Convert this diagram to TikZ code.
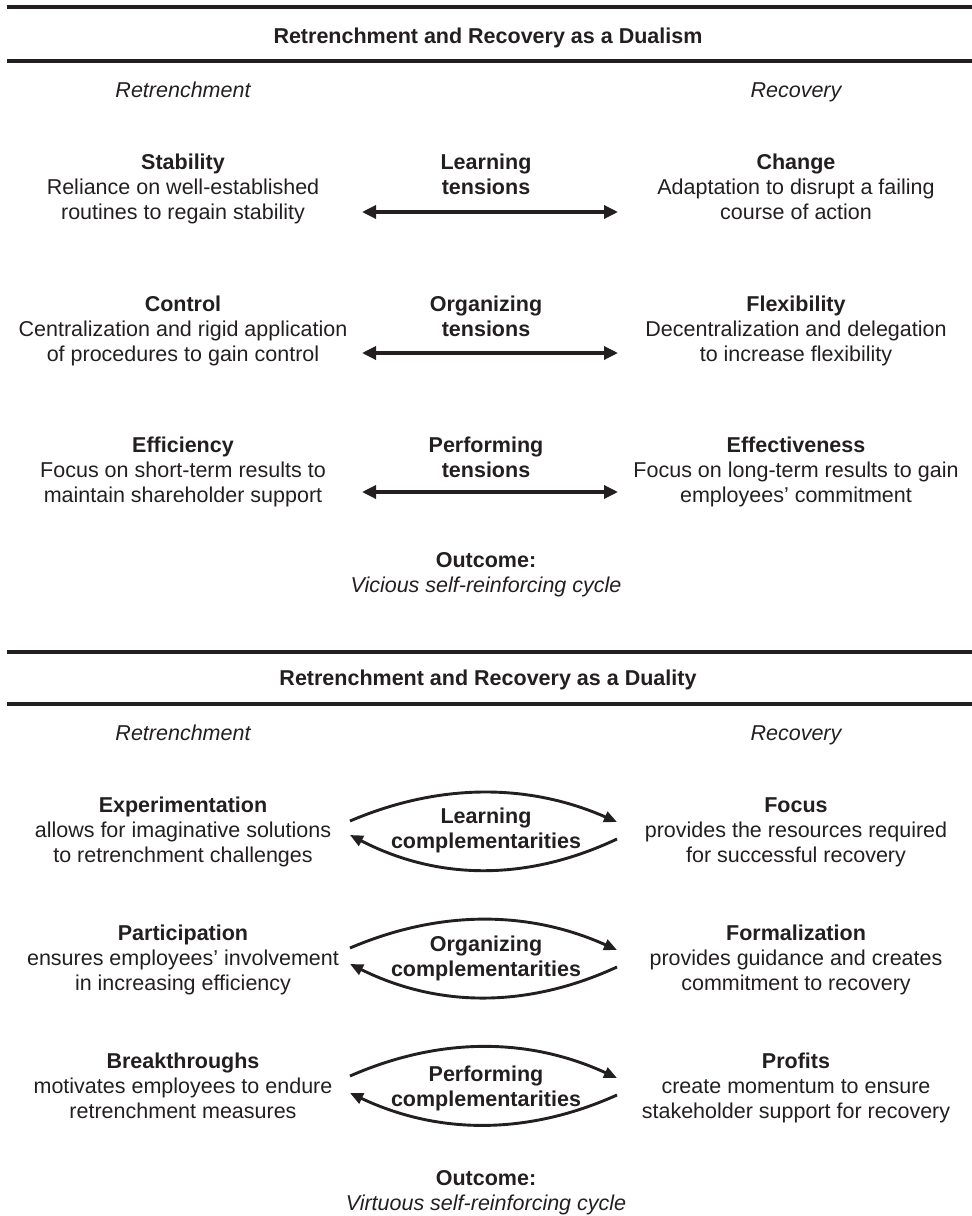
\documentclass[tikz,border=0pt]{standalone}
\usepackage{fontspec}
\setmainfont{Liberation Sans}
\usetikzlibrary{arrows.meta}
\definecolor{ink}{RGB}{35,31,32}
\newcommand{\blk}[3]{\strut\textbf{#1}\\#2\\#3\strut}
\newcommand{\two}[2]{\strut#1\\#2\strut}
\begin{document}
\begin{tikzpicture}[x=1pt,y=-1pt,
  every node/.style={font=\fontsize{21.5pt}{25pt}\selectfont,text=ink,align=center,inner sep=0pt},
  rule/.style={draw=ink,line width=3.2pt},
  head/.style={font=\fontsize{21.5pt}{25pt}\selectfont\bfseries,anchor=base},
  side/.style={font=\fontsize{21.5pt}{25pt}\selectfont\itshape,anchor=base},
  block/.style={},
  mid/.style={font=\fontsize{21.5pt}{25pt}\selectfont\bfseries},
  tens/.style={draw=ink,line width=3.3pt,{Triangle[length=14pt,width=13pt]}-{Triangle[length=14pt,width=13pt]}},
  comp/.style={draw=ink,line width=2.9pt,-{Triangle[length=13pt,width=11pt]}}
]
\useasboundingbox (0,0) rectangle (972,1216);

% ---------- Dualism ----------
\coordinate (r1a) at (7,7);   \coordinate (r1b) at (972,7);
\coordinate (r2a) at (7,61);  \coordinate (r2b) at (972,61);
\draw[rule] (r1a) -- (r1b);
\draw[rule] (r2a) -- (r2b);
\node[head] (t1) at (488,43.5) {Retrenchment and Recovery as a Dualism};
\node[side] (lr1) at (183,97.5) {Retrenchment};
\node[side] (rr1) at (796,97.5) {Recovery};

\node[block] (stab) at (183,189) {\blk{Stability}{Reliance on well-established}{routines to regain stability}};
\node[block] (ctrl) at (183,331) {\blk{Control}{Centralization and rigid application}{of procedures to gain control}};
\node[block] (effi) at (183,472) {\blk{Efficiency}{Focus on short-term results to}{maintain shareholder support}};

\node[block] (chng) at (796,189) {\blk{Change}{Adaptation to disrupt a failing}{course of action}};
\node[block] (flex) at (796,331) {\blk{Flexibility}{Decentralization and delegation}{to increase flexibility}};
\node[block] (effe) at (796,472) {\blk{Effectiveness}{Focus on long-term results to gain}{employees’ commitment}};

\node[mid] (lt) at (486,176.5) {\two{Learning}{tensions}};
\node[mid] (ot) at (486,318.5) {\two{Organizing}{tensions}};
\node[mid] (pt) at (486,459.5) {\two{Performing}{tensions}};

\coordinate (a1l) at (362,212); \coordinate (a1r) at (618,212);
\coordinate (a2l) at (362,353); \coordinate (a2r) at (618,353);
\coordinate (a3l) at (362,492); \coordinate (a3r) at (618,492);
\draw[tens] (a1l) -- (a1r);
\draw[tens] (a2l) -- (a2r);
\draw[tens] (a3l) -- (a3r);

\node[block] (out1) at (486,575) {\two{\textbf{Outcome:}}{\textit{Vicious self-reinforcing cycle}}};

% ---------- Duality ----------
\coordinate (r3a) at (7,652);  \coordinate (r3b) at (972,652);
\coordinate (r4a) at (7,704);  \coordinate (r4b) at (972,704);
\draw[rule] (r3a) -- (r3b);
\draw[rule] (r4a) -- (r4b);
\node[head] (t2) at (488,685) {Retrenchment and Recovery as a Duality};
\node[side] (lr2) at (183,740.5) {Retrenchment};
\node[side] (rr2) at (796,740.5) {Recovery};

\node[block] (expe) at (183,832.5) {\blk{Experimentation}{allows for imaginative solutions}{to retrenchment challenges}};
\node[block] (part) at (183,960.5) {\blk{Participation}{ensures employees’ involvement}{in increasing efficiency}};
\node[block] (brea) at (183,1088.5) {\blk{Breakthroughs}{motivates employees to endure}{retrenchment measures}};

\node[block] (focu) at (796,832.5) {\blk{Focus}{provides the resources required}{for successful recovery}};
\node[block] (form) at (796,960.5) {\blk{Formalization}{provides guidance and creates}{commitment to recovery}};
\node[block] (prof) at (796,1088.5) {\blk{Profits}{create momentum to ensure}{stakeholder support for recovery}};

\node[mid] (lc) at (486,830.5) {\two{Learning}{complementarities}};
\node[mid] (oc) at (486,958.5) {\two{Organizing}{complementarities}};
\node[mid] (pc) at (486,1088.5) {\two{Performing}{complementarities}};

% curves
\coordinate (c1a) at (350,821); \coordinate (c1b) at (617,822);
\coordinate (c1c) at (617,839); \coordinate (c1d) at (350,835);
\draw[comp] (c1a) .. controls (439,783) and (528,783) .. (c1b);
\draw[comp] (c1c) .. controls (528,881) and (439,881) .. (c1d);

\coordinate (c2a) at (350,948); \coordinate (c2b) at (617,950);
\coordinate (c2c) at (617,967); \coordinate (c2d) at (350,964);
\draw[comp] (c2a) .. controls (439,910) and (528,910) .. (c2b);
\draw[comp] (c2c) .. controls (528,1008) and (439,1008) .. (c2d);

\coordinate (c3a) at (350,1076); \coordinate (c3b) at (617,1078);
\coordinate (c3c) at (617,1095); \coordinate (c3d) at (350,1093);
\draw[comp] (c3a) .. controls (439,1037) and (528,1037) .. (c3b);
\draw[comp] (c3c) .. controls (528,1135) and (439,1135) .. (c3d);

\node[block] (out2) at (486,1192.5) {\two{\textbf{Outcome:}}{\textit{Virtuous self-reinforcing cycle}}};
\end{tikzpicture}
\end{document}
